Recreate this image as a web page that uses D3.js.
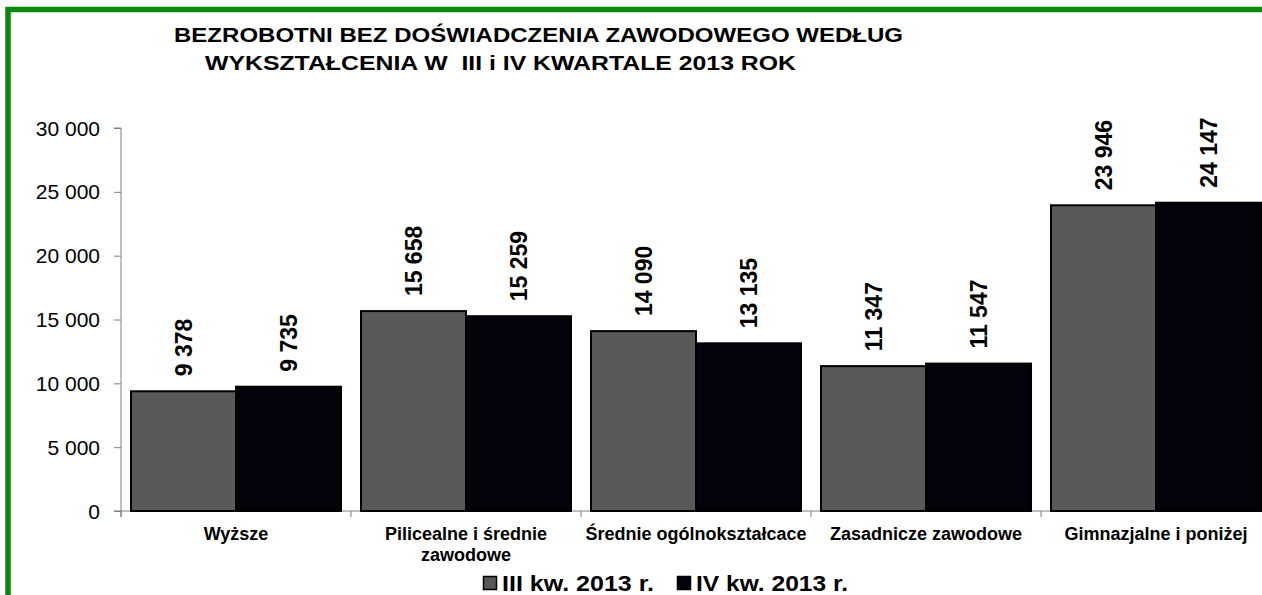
<!DOCTYPE html>
<html>
<head>
<meta charset="utf-8">
<script src="https://cdn.jsdelivr.net/npm/d3@7"></script>
<style>
  body { margin: 0; background: #fff; }
  svg { display: block; font-family: Arial, "Liberation Sans", sans-serif; }
  .axis path, .axis line { stroke: #7f7f7f; }
</style>
</head>
<body>
<svg id="svg" width="1262" height="595"></svg>
<script>
// data
var categories = ["Wyższe", "Pilicealne i średnie\nzawodowe", "Średnie ogólnokształcace", "Zasadnicze zawodowe", "Gimnazjalne i poniżej"];
var seriesNames = ["III kw. 2013 r.", "IV kw. 2013 r."];
var q3Values = [9378, 15658, 14090, 11347, 23946];
var q4Values = [9735, 15259, 13135, 11547, 24147];
var yTicks = [0, 5000, 10000, 15000, 20000, 25000, 30000];
var titleLines = ["BEZROBOTNI BEZ DOŚWIADCZENIA ZAWODOWEGO WEDŁUG", "WYKSZTAŁCENIA W  III i IV KWARTALE 2013 ROK"];

var colors = ["#595959", "#03030c"];

var svg = d3.select("#svg");

var margin = { left: 121, top: 128, bottom: 511 };
var plotRight = 1271;   // plot runs past the right edge, as in the original

// green frame
svg.append("rect")
  .attr("x", 8).attr("y", 9.5)
  .attr("width", 1300).attr("height", 700)
  .style("fill", "none")
  .style("stroke", "#0b880b")
  .style("stroke-width", 5.5);

// title
var titleX = [174, 205], titleY = [42, 70], titleW = [729, 591];
svg.selectAll(".title")
  .data(titleLines)
  .enter().append("text")
  .classed("title", true)
  .attr("x", (d, i) => titleX[i])
  .attr("y", (d, i) => titleY[i])
  .attr("textLength", (d, i) => titleW[i])
  .attr("lengthAdjust", "spacingAndGlyphs")
  .style("font-size", "19.5px")
  .style("font-weight", "bold")
  .style("white-space", "pre")
  .text(d => d);

// scales
var y = d3.scaleLinear().domain([0, 30000]).range([margin.bottom, margin.top]);
var x0 = d3.scaleBand().domain(categories).range([margin.left, plotRight])
  .paddingInner(0.087).paddingOuter(0.0435);
var x1 = d3.scaleBand().domain(seriesNames).range([0, x0.bandwidth()]);

var fmt = v => d3.format(",")(v).replace(/,/g, " ");

// y axis
var yAxis = svg.append("g")
  .classed("axis", true)
  .attr("transform", "translate(" + margin.left + ",0)")
  .call(d3.axisLeft(y).tickValues(yTicks).tickSize(7).tickFormat(fmt));
yAxis.select(".domain").attr("d", "M-7," + y(30000) + "H0V" + (margin.bottom + 6));
yAxis.selectAll("text")
  .attr("x", -21)
  .attr("dy", "0.34em")
  .style("font-size", "21px")
  .style("font-family", "Arial, 'Liberation Sans', sans-serif")
  .style("fill", "#000");

// x axis line with ticks at category boundaries
var step = x0.step();
var bounds = categories.map(c => x0(c) - (step - x0.bandwidth()) / 2);
bounds.push(plotRight);
svg.append("line")
  .attr("x1", margin.left - 7).attr("x2", plotRight)
  .attr("y1", margin.bottom).attr("y2", margin.bottom)
  .style("stroke", "#7f7f7f");
svg.selectAll(".xtick")
  .data(bounds)
  .enter().append("line")
  .classed("xtick", true)
  .attr("x1", d => d).attr("x2", d => d)
  .attr("y1", margin.bottom).attr("y2", margin.bottom + 6)
  .style("stroke", "#7f7f7f");

// bars
var rows = categories.map((c, i) => ({ cat: c, vals: [q3Values[i], q4Values[i]] }));
var groups = svg.selectAll(".grp")
  .data(rows)
  .enter().append("g")
  .classed("grp", true)
  .attr("transform", d => "translate(" + x0(d.cat) + ",0)");

groups.selectAll("rect")
  .data(d => d.vals.map((v, j) => ({ v: v, s: seriesNames[j], j: j })))
  .enter().append("rect")
  .attr("x", d => x1(d.s))
  .attr("y", d => y(d.v))
  .attr("width", x1.bandwidth())
  .attr("height", d => y(0) - y(d.v))
  .style("fill", d => colors[d.j])
  .style("stroke", "#000")
  .style("stroke-width", 2);

// value labels, rotated
groups.selectAll(".val")
  .data(d => d.vals.map((v, j) => ({ v: v, s: seriesNames[j] })))
  .enter().append("text")
  .classed("val", true)
  .attr("transform", d => "translate(" + (x1(d.s) + x1.bandwidth() / 2) + "," + (y(d.v) - 15) + ") rotate(-90)")
  .attr("dy", "0.36em")
  .style("font-size", "23px")
  .style("font-weight", "bold")
  .text(d => fmt(d.v));

// category labels
svg.selectAll(".cat")
  .data(categories)
  .enter().append("text")
  .classed("cat", true)
  .attr("text-anchor", "middle")
  .attr("x", d => x0(d) + x0.bandwidth() / 2)
  .attr("y", 540)
  .style("font-size", "18px")
  .style("font-weight", "bold")
  .each(function(d) {
    var t = d3.select(this);
    d.split("\n").forEach((line, k) => {
      t.append("tspan")
        .attr("x", x0(d) + x0.bandwidth() / 2)
        .attr("dy", k === 0 ? 0 : 21)
        .text(line);
    });
  });

// legend
var legX = [483, 677];
var leg = svg.selectAll(".leg")
  .data(seriesNames)
  .enter().append("g")
  .classed("leg", true)
  .attr("transform", (d, i) => "translate(" + legX[i] + ",576)");
leg.append("rect")
  .attr("x", 0.5).attr("y", 0.5)
  .attr("width", 13).attr("height", 13)
  .style("fill", (d, i) => colors[i])
  .style("stroke", "#000")
  .style("stroke-width", 1.5);
leg.append("text")
  .attr("x", 19).attr("y", 14.5)
  .attr("textLength", 152)
  .attr("lengthAdjust", "spacingAndGlyphs")
  .style("font-size", "22.5px")
  .style("font-weight", "bold")
  .text(d => d);
</script>
</body>
</html>
